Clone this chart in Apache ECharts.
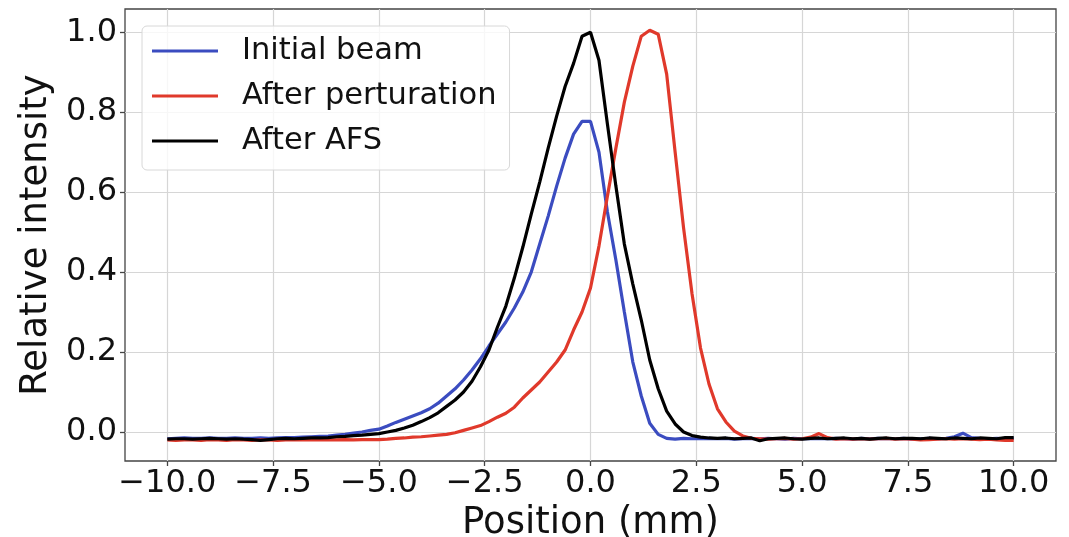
<!DOCTYPE html>
<html>
<head>
<meta charset="utf-8">
<script src="https://cdn.jsdelivr.net/npm/echarts@6/dist/echarts.min.js"></script>
<style>
html,body{margin:0;padding:0;background:#fff;}
#chart{width:1069px;height:537px;}
</style>
</head>
<body>
<div id="chart"></div>
<script>
// Position grid (mm)
const positions = [
-10.0,-9.8,-9.6,-9.4,-9.2,-9.0,-8.8,-8.6,-8.4,-8.2,
-8.0,-7.8,-7.6,-7.4,-7.2,-7.0,-6.8,-6.6,-6.4,-6.2,
-6.0,-5.8,-5.6,-5.4,-5.2,-5.0,-4.8,-4.6,-4.4,-4.2,
-4.0,-3.8,-3.6,-3.4,-3.2,-3.0,-2.8,-2.6,-2.4,-2.2,
-2.0,-1.8,-1.6,-1.4,-1.2,-1.0,-0.8,-0.6,-0.4,-0.2,
0.0,0.2,0.4,0.6,0.8,1.0,1.2,1.4,1.6,1.8,
2.0,2.2,2.4,2.6,2.8,3.0,3.2,3.4,3.6,3.8,
4.0,4.2,4.4,4.6,4.8,5.0,5.2,5.4,5.6,5.8,
6.0,6.2,6.4,6.6,6.8,7.0,7.2,7.4,7.6,7.8,
8.0,8.2,8.4,8.6,8.8,9.0,9.2,9.4,9.6,9.8,
10.0];

const initialBeam = [
-0.017,-0.016,-0.015,-0.016,-0.016,-0.015,-0.016,-0.016,-0.015,-0.016,
-0.016,-0.015,-0.016,-0.015,-0.014,-0.014,-0.013,-0.012,-0.011,-0.010,
-0.008,-0.006,-0.003,0.000,0.004,0.007,0.015,0.024,0.032,0.040,
0.048,0.058,0.072,0.090,0.108,0.130,0.155,0.183,0.215,0.245,
0.275,0.310,0.350,0.400,0.470,0.540,0.615,0.685,0.745,0.777,
0.777,0.700,0.550,0.430,0.300,0.175,0.090,0.022,-0.006,-0.016,
-0.018,-0.016,-0.017,-0.017,-0.016,-0.017,-0.016,-0.018,-0.017,-0.016,
-0.017,-0.016,-0.017,-0.018,-0.016,-0.017,-0.016,-0.017,-0.017,-0.016,
-0.017,-0.018,-0.016,-0.017,-0.016,-0.017,-0.017,-0.016,-0.018,-0.017,
-0.016,-0.017,-0.016,-0.012,-0.003,-0.014,-0.016,-0.017,-0.016,-0.017,
-0.016];

const afterPerturbation = [
-0.020,-0.021,-0.020,-0.020,-0.021,-0.019,-0.020,-0.021,-0.019,-0.020,
-0.021,-0.020,-0.020,-0.021,-0.020,-0.019,-0.020,-0.020,-0.019,-0.020,
-0.020,-0.019,-0.020,-0.019,-0.019,-0.019,-0.018,-0.016,-0.015,-0.013,
-0.012,-0.010,-0.008,-0.006,-0.002,0.004,0.010,0.016,0.026,0.037,
0.047,0.062,0.085,0.105,0.125,0.150,0.175,0.205,0.255,0.300,
0.360,0.465,0.590,0.710,0.825,0.915,0.990,1.005,0.995,0.895,
0.700,0.510,0.345,0.210,0.120,0.058,0.025,0.002,-0.010,-0.016,
-0.017,-0.018,-0.017,-0.016,-0.018,-0.017,-0.013,-0.004,-0.014,-0.018,
-0.017,-0.018,-0.017,-0.018,-0.017,-0.016,-0.018,-0.017,-0.018,-0.020,
-0.019,-0.018,-0.017,-0.018,-0.017,-0.018,-0.019,-0.018,-0.020,-0.021,
-0.021];

const afterAFS = [
-0.018,-0.017,-0.017,-0.018,-0.017,-0.016,-0.017,-0.018,-0.017,-0.018,
-0.019,-0.021,-0.019,-0.017,-0.016,-0.017,-0.016,-0.015,-0.015,-0.014,
-0.012,-0.011,-0.009,-0.008,-0.006,-0.004,0.000,0.004,0.010,0.017,
0.026,0.036,0.048,0.064,0.080,0.100,0.127,0.163,0.205,0.262,
0.315,0.385,0.462,0.545,0.625,0.710,0.790,0.864,0.922,0.990,
1.000,0.930,0.770,0.615,0.470,0.370,0.280,0.180,0.108,0.052,
0.020,0.000,-0.009,-0.013,-0.015,-0.016,-0.015,-0.017,-0.016,-0.015,
-0.022,-0.017,-0.016,-0.015,-0.017,-0.018,-0.016,-0.015,-0.017,-0.016,
-0.015,-0.017,-0.016,-0.018,-0.016,-0.015,-0.017,-0.016,-0.016,-0.017,
-0.015,-0.016,-0.017,-0.015,-0.016,-0.017,-0.015,-0.016,-0.017,-0.014,
-0.014];

const xTicks = [-10, -7.5, -5, -2.5, 0, 2.5, 5, 7.5, 10];
const yTicks = [0, 0.2, 0.4, 0.6, 0.8, 1.0];
const seriesNames = ['Initial beam', 'After perturation', 'After AFS'];
const seriesColors = ['#3b4cc0', '#e0392b', '#000000'];

const FONT = 'DejaVu Sans';
const toPairs = arr => positions.map((x, i) => [x, arr[i]]);
const allSeries = [initialBeam, afterPerturbation, afterAFS];

const chart = echarts.init(document.getElementById('chart'), null, {renderer: 'canvas'});
chart.setOption({
  animation: false,
  backgroundColor: '#ffffff',
  grid: {
    left: 125, right: 13, top: 9, bottom: 76,
    outerBoundsMode: 'none', containLabel: false,
    show: true, borderColor: '#444', borderWidth: 1.3, backgroundColor: 'transparent'
  },
  xAxis: {
    type: 'value', min: -11, max: 11,
    name: 'Position (mm)', nameLocation: 'middle', nameGap: 40,
    nameTextStyle: {fontFamily: FONT, fontSize: 37, color: '#111'},
    axisLine: {show: false, onZero: false},
    axisTick: {show: true, length: 5, customValues: xTicks, lineStyle: {color: '#444', width: 1.3}},
    axisLabel: {
      customValues: xTicks, margin: 7,
      fontFamily: FONT, fontSize: 32, color: '#111',
      formatter: v => (v < 0 ? '\u2212' : '') + Math.abs(v).toFixed(1)
    },
    splitLine: {show: true, lineStyle: {color: '#d6d6d6', width: 1.2}}
  },
  yAxis: {
    type: 'value', min: -0.0726, max: 1.058,
    name: 'Relative intensity', nameLocation: 'middle', nameGap: 63,
    nameTextStyle: {fontFamily: FONT, fontSize: 37, color: '#111'},
    axisLine: {show: false, onZero: false},
    axisTick: {show: true, length: 5, customValues: yTicks, lineStyle: {color: '#444', width: 1.3}},
    axisLabel: {
      customValues: yTicks, margin: 8,
      fontFamily: FONT, fontSize: 32, color: '#111',
      formatter: v => v.toFixed(1)
    },
    splitLine: {show: true, lineStyle: {color: '#d6d6d6', width: 1.2}}
  },
  legend: {
    orient: 'vertical', left: 142, top: 26,
    icon: 'rect', itemWidth: 66, itemHeight: 3, itemGap: 11,
    padding: [8, 13, 12, 10],
    backgroundColor: 'rgba(255,255,255,0.8)',
    borderColor: '#d8d8d8', borderWidth: 1, borderRadius: 5,
    textStyle: {fontFamily: FONT, fontSize: 30.5, color: '#111', lineHeight: 34, padding: [0, 0, 0, 19]},
    data: seriesNames
  },
  series: allSeries.map((arr, k) => ({
    name: seriesNames[k],
    type: 'line',
    data: toPairs(arr),
    showSymbol: false,
    symbol: 'none',
    lineStyle: {color: seriesColors[k], width: 3.2},
    itemStyle: {color: seriesColors[k]},
    z: 2 + k
  }))
});
</script>
</body>
</html>
